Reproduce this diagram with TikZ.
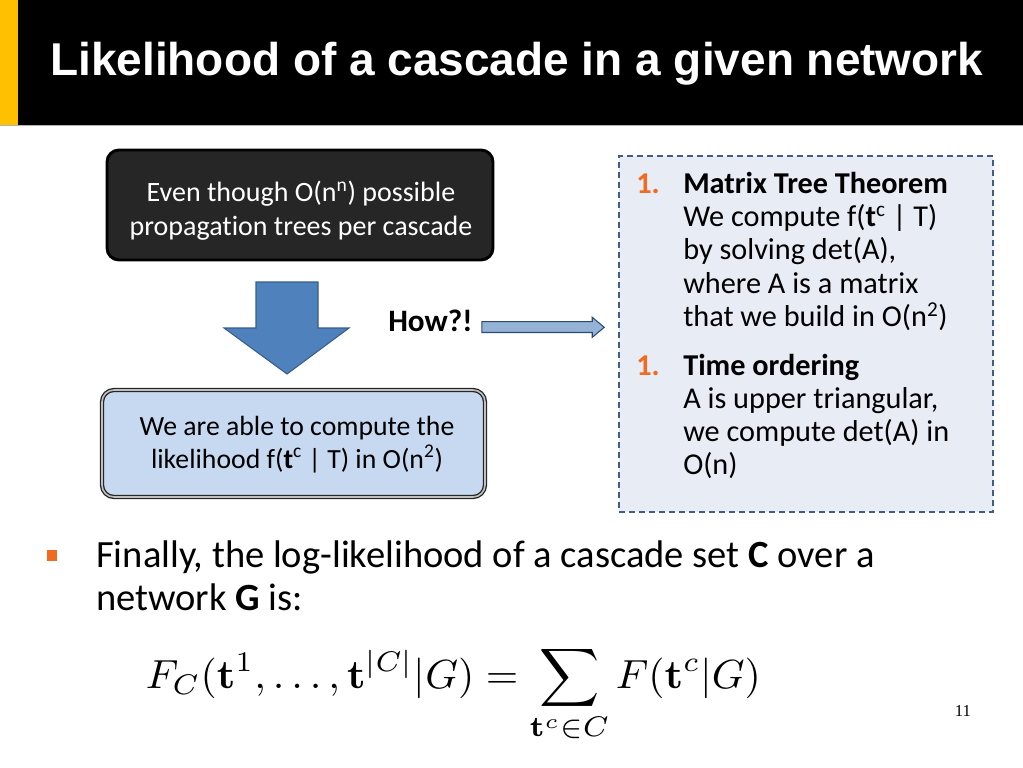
\documentclass[tikz,border=0pt]{standalone}
\usepackage{amsmath}
\usepackage[no-math]{fontspec}
\setmainfont{Carlito}[Ligatures=NoCommon]
\newfontfamily\titlefont{Liberation Sans}
\newfontfamily\pagefont{Liberation Serif}
\usetikzlibrary{calc}
\definecolor{hdryellow}{HTML}{FFC000}
\definecolor{darkfill}{HTML}{262626}
\definecolor{lightblue}{HTML}{C6D9F1}
\definecolor{arrowblue}{HTML}{4F81BD}
\definecolor{arrowedge}{HTML}{385D8A}
\definecolor{smallblue}{HTML}{95B3D7}
\definecolor{panelfill}{HTML}{E7ECF5}
\definecolor{paneledge}{HTML}{3F5D87}
\definecolor{accent}{HTML}{F26A21}
\tikzset{
  titletext/.style={font=\titlefont\bfseries\fontsize{34.5}{40}\selectfont, text=white, inner sep=0pt},
  topboxtext/.style={font=\fontsize{21}{25}\selectfont, inner sep=0pt, text=white},
  botboxtext/.style={font=\fontsize{20.8}{25}\selectfont, inner sep=0pt},
  paneltext/.style={font=\fontsize{22.7}{25}\selectfont, inner sep=0pt},
  panelhead/.style={font=\fontsize{22.7}{25}\selectfont\bfseries, inner sep=0pt},
  numtext/.style={panelhead, text=accent},
  darkbox/.style={draw=black, line width=2.2pt, fill=darkfill, rounded corners=9pt, minimum width=289.5pt, minimum height=82.5pt, inner sep=0pt},
  bluebox/.style={draw=black!85, line width=1pt, double=black!25, double distance=1.2pt, fill=lightblue, rounded corners=9pt, minimum width=287.25pt, minimum height=80.25pt, inner sep=0pt},
  panel/.style={draw=paneledge, line width=1.1pt, dash pattern=on 4.5pt off 3pt, fill=panelfill, minimum width=280.5pt, minimum height=267pt, inner sep=0pt},
  bodytext/.style={font=\fontsize{28.9}{32}\selectfont, inner sep=0pt},
}
\begin{document}
\begin{tikzpicture}[x=0.75pt,y=-0.75pt]
\useasboundingbox (0,0) rectangle (1023,767);
\fill[white] (0,0) rectangle (1023,767);
% header
\fill[black] (18,0) rectangle (1023,125);
\fill[hdryellow] (0,0) rectangle (18,125);
\draw[black!30, line width=0.75pt] (0,125.5) -- (1023,125.5);
\node[titletext, anchor=base west] (title) at (50,75) {Likelihood of a cascade in a given network};
% top dark box
\node[darkbox] (top) at (300,205) {};
\node[topboxtext, anchor=base] (top1) at (301,201.7) {Even though O(n\textsuperscript{n}) possible};
\node[topboxtext, anchor=base] (top2) at (301,235) {propagation trees per cascade};
% bottom blue box
\node[bluebox] (bot) at (293.5,443.5) {};
\node[botboxtext, anchor=base] (bot1) at (297,435) {We are able to compute the};
\node[botboxtext, anchor=base] (bot2) at (297,468) {likelihood f(\textbf{t}\textsuperscript{c} | T) in O(n\textsuperscript{2})};
% down block arrow
\draw[fill=arrowblue, draw=arrowedge, line width=0.8pt, line join=miter]
  (256,282) -- (318,282) -- (318,328) -- (349,328) -- (287,374) -- (224,328) -- (256,328) -- cycle;
% How?!
\node[font=\fontsize{23.4}{25}\selectfont\bfseries, inner sep=0pt, anchor=base west] (how) at (388,331.7) {How?!};
% right panel
\node[panel] (rb) at (806,334) {};
\node[numtext, anchor=base west] (n1) at (636,193.3) {1.};
\node[panelhead, anchor=base west] (l1) at (683,193.3) {Matrix Tree Theorem};
\node[paneltext, anchor=base west] (l2) at (683,226.6) {We compute f(\textbf{t}\textsuperscript{c} | T)};
\node[paneltext, anchor=base west] (l3) at (683,259.9) {by solving det(A),};
\node[paneltext, anchor=base west] (l4) at (683,293.2) {where A is a matrix};
\node[paneltext, anchor=base west] (l5) at (683,326.5) {that we build in O(n\textsuperscript{2})};
\node[numtext, anchor=base west] (n2) at (636,375) {1.};
\node[panelhead, anchor=base west] (m1) at (683,375) {Time ordering};
\node[paneltext, anchor=base west] (m2) at (683,408.3) {A is upper triangular,};
\node[paneltext, anchor=base west] (m3) at (683,441.6) {we compute det(A) in};
\node[paneltext, anchor=base west] (m4) at (683,474.9) {O(n)};
% small arrow from How?! to panel
\coordinate (arrS) at ($(how.east)+(9,0)$);
\coordinate (arrE) at ($(rb.west)+(-14,0)$);
\draw[fill=smallblue, draw=arrowedge!80!black, line width=0.8pt, line join=miter]
  ($(arrS|-0,321.7)$) -- ($(arrE|-0,321.7)+(-12,0)$) -- ($(arrE|-0,317.3)+(-12,0)$) -- ($(arrE|-0,327.3)$)
  -- ($(arrE|-0,337.3)+(-12,0)$) -- ($(arrE|-0,332.5)+(-12,0)$) -- ($(arrS|-0,332.5)$) -- cycle;
% bullet
\fill[accent] (47,550) rectangle (57,561);
\node[bodytext, anchor=base west] (b1) at (96,567) {Finally, the log-likelihood of a cascade set \textbf{C} over a};
\node[bodytext, anchor=base west] (b2) at (96,610) {network \textbf{G} is:};
% formula
\node[inner sep=0pt, anchor=base west, xscale=3.13, yscale=3.05, font=\fontsize{10}{12}\selectfont] (formula) at (145,688)
  {$\displaystyle F_C(\mathbf{t}^1,\ldots,\mathbf{t}^{|C|}|G)=\sum_{\mathbf{t}^c\in C}F(\mathbf{t}^c|G)$};
% page number
\node[inner sep=0pt, anchor=base, font=\pagefont\fontsize{12.5}{14}\selectfont] (page) at (963,716.7) {11};
\end{tikzpicture}
\end{document}
